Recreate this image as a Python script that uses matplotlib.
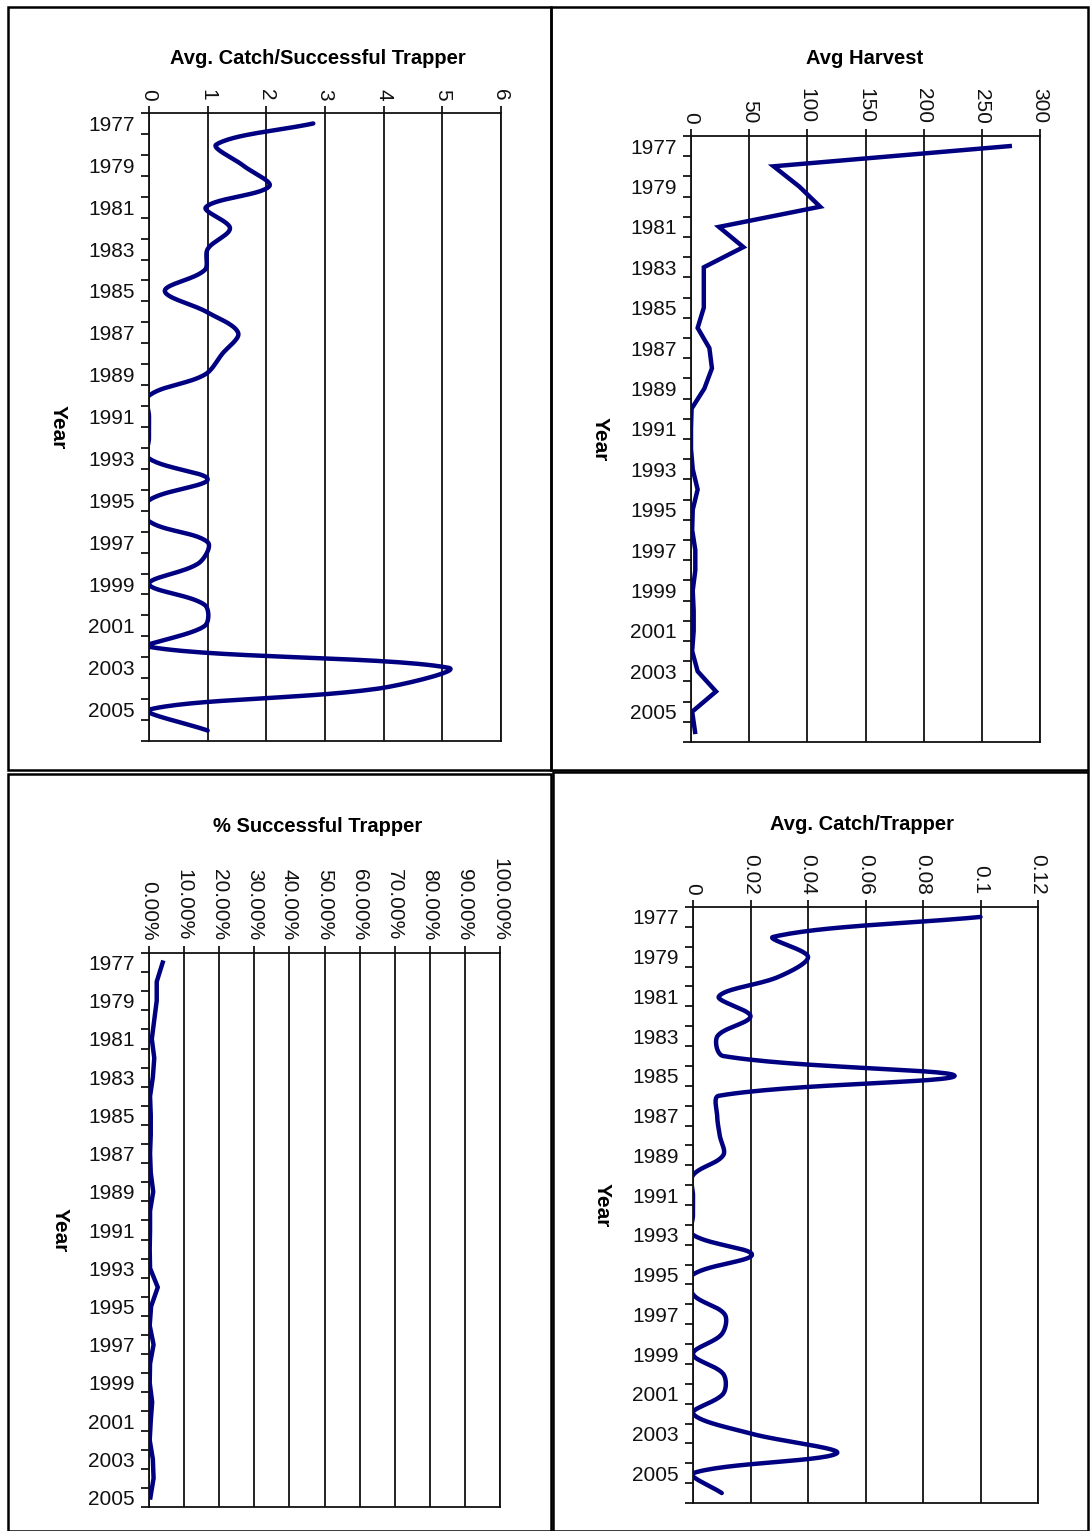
import numpy as np
import matplotlib.pyplot as plt
from matplotlib.patches import Rectangle
from matplotlib.ticker import FuncFormatter, PercentFormatter

plt.rcParams['font.family'] = ['Liberation Sans', 'DejaVu Sans']

# --- DATA ---
years = list(range(1977, 2007))
years_pct = list(range(1977, 2006))

catch_per_successful = [2.8, 1.15, 1.6, 2.05, 0.97, 1.38, 1.0, 0.95, 0.27, 0.98,
                        1.52, 1.25, 0.95, 0, 0, 0, 0, 1.0, 0, 0,
                        1.0, 0.85, 0, 0.95, 0.95, 0, 5.1, 3.9, 0, 1.0]
avg_harvest = [274, 71, 93, 111, 24, 45, 11, 11, 11, 5.7,
               15.8, 18, 11.5, 0.5, 0, 0, 1.5, 5.7, 1.5, 1,
               3.7, 3.7, 1.5, 2.3, 2.3, 1, 5.7, 21.5, 1, 3.5]
pct_successful = [0.039, 0.022, 0.022, 0.015, 0.008, 0.015, 0.011, 0.003, 0.005, 0.005,
                  0.003, 0.005, 0.012, 0.003, 0.003, 0.002, 0.003, 0.025, 0.006, 0.002,
                  0.013, 0.003, 0.002, 0.009, 0.005, 0.002, 0.011, 0.013, 0.004]
catch_per_trapper = [0.1, 0.028, 0.04, 0.03, 0.009, 0.02, 0.0085, 0.0105, 0.091, 0.009,
                     0.0084, 0.0093, 0.0105, 0, 0, 0, 0, 0.0205, 0, 0,
                     0.011, 0.01, 0, 0.0105, 0.0105, 0, 0.02, 0.05, 0, 0.01]

ticks_catch_succ = [0, 1, 2, 3, 4, 5, 6]
ticks_harvest = [0, 50, 100, 150, 200, 250, 300]
ticks_pct = [0, 0.1, 0.2, 0.3, 0.4, 0.5, 0.6, 0.7, 0.8, 0.9, 1.0]
ticks_catch_trap = [0, 0.02, 0.04, 0.06, 0.08, 0.1, 0.12]

W, H = 1090, 1531
NAVY = '#000080'

fig = plt.figure(figsize=(W / 100, H / 100), dpi=100)


def px_axes(x0, y0, x1, y1):
    return fig.add_axes([x0 / W, 1 - y1 / H, (x1 - x0) / W, (y1 - y0) / H])


def smooth(ax, vals, steps=30):
    # excel-like smoothed line: bezier in screen space, handles scaled by segment length
    n = len(vals)
    pts = ax.transData.transform(np.column_stack([vals, np.arange(n)]))
    t = np.linspace(0, 1, steps)[:, None]
    out = []
    for i in range(n - 1):
        p0, p1 = pts[max(i - 1, 0)], pts[i]
        p2, p3 = pts[i + 1], pts[min(i + 2, n - 1)]
        l01 = np.hypot(*(p1 - p0))
        l12 = np.hypot(*(p2 - p1))
        l23 = np.hypot(*(p3 - p2))
        c1 = p1 + (p2 - p0) * l12 / (l01 + l12) / 3
        c2 = p2 - (p3 - p1) * l12 / (l12 + l23) / 3
        seg = (1 - t) ** 3 * p1 + 3 * (1 - t) ** 2 * t * c1 + 3 * (1 - t) * t ** 2 * c2 + t ** 3 * p2
        out.append(seg if i == 0 else seg[1:])
    return ax.transData.inverted().transform(np.vstack(out))


def setup(ax, cats, ticks, fmt):
    n = len(cats)
    ax.set_xlim(ticks[0], ticks[-1])
    ax.set_ylim(n - 0.5, -0.5)
    ax.xaxis.tick_top()
    ax.set_xticks(ticks)
    ax.xaxis.set_major_formatter(fmt)
    ax.set_yticks(np.arange(-0.5, n, 1))
    ax.set_yticklabels([])
    ax.set_yticks(np.arange(0, n, 2), minor=True)
    ax.set_yticklabels([str(c) for c in cats[::2]], minor=True)
    ax.tick_params(axis='y', which='major', length=6, width=1.2, direction='out', color='black')
    ax.tick_params(axis='y', which='minor', length=0, pad=10, labelsize=15, labelcolor='#111111')
    ax.tick_params(axis='x', which='major', length=5, width=1.2, direction='out', pad=4,
                   labelsize=15, labelrotation=-90, labelcolor='#111111')
    ax.grid(axis='x', color='#111111', lw=1.3)
    for s in ax.spines.values():
        s.set_color('#111111')
        s.set_linewidth(1.3)
    ax.set_ylabel('Year', rotation=-90, fontsize=15, fontweight='bold', ha='center', va='center')


# panel frames
for (x0, y0, x1, y1) in [(8, 7, 551, 770), (551, 7, 1088, 770),
                         (8, 774, 551, 1531), (553, 772, 1088, 1531)]:
    fig.add_artist(Rectangle((x0 / W, 1 - y1 / H), (x1 - x0) / W, (y1 - y0) / H,
                             transform=fig.transFigure, fill=False, ec='black', lw=1.8))

# top-left
ax1 = px_axes(149, 113, 501, 741)
setup(ax1, years, ticks_catch_succ, FuncFormatter(lambda v, p: '%g' % v))
s = smooth(ax1, catch_per_successful)
ax1.plot(s[:, 0], s[:, 1], color=NAVY, lw=3.2, solid_capstyle='round')
ax1.yaxis.set_label_coords(-0.258, 0.5)
fig.text(318 / W, 1 - 58 / H, 'Avg. Catch/Successful Trapper', ha='center', va='center',
         fontsize=14.5, fontweight='bold')

# top-right
ax2 = px_axes(691, 136, 1040, 742)
setup(ax2, years, ticks_harvest, FuncFormatter(lambda v, p: '%g' % v))
ax2.plot(avg_harvest, np.arange(len(years)), color=NAVY, lw=3.2, solid_joinstyle='miter')
ax2.yaxis.set_label_coords(-0.26, 0.5)
fig.text(865 / W, 1 - 58 / H, 'Avg Harvest', ha='center', va='center',
         fontsize=14.5, fontweight='bold')

# bottom-left
ax3 = px_axes(149, 953, 500, 1507)
setup(ax3, years_pct, ticks_pct, PercentFormatter(1.0, decimals=2))
ax3.plot(pct_successful, np.arange(len(years_pct)), color=NAVY, lw=3.2)
ax3.yaxis.set_label_coords(-0.253, 0.5)
fig.text(318 / W, 1 - 826 / H, '% Successful Trapper', ha='center', va='center',
         fontsize=14.5, fontweight='bold')

# bottom-right
ax4 = px_axes(693, 907, 1038, 1503)
setup(ax4, years, ticks_catch_trap, FuncFormatter(lambda v, p: '%g' % round(v, 2)))
s = smooth(ax4, catch_per_trapper)
ax4.plot(s[:, 0], s[:, 1], color=NAVY, lw=3.2, solid_capstyle='round')
ax4.yaxis.set_label_coords(-0.264, 0.5)
fig.text(862 / W, 1 - 824 / H, 'Avg. Catch/Trapper', ha='center', va='center',
         fontsize=14.5, fontweight='bold')

fig.savefig('out.png', dpi=100)
